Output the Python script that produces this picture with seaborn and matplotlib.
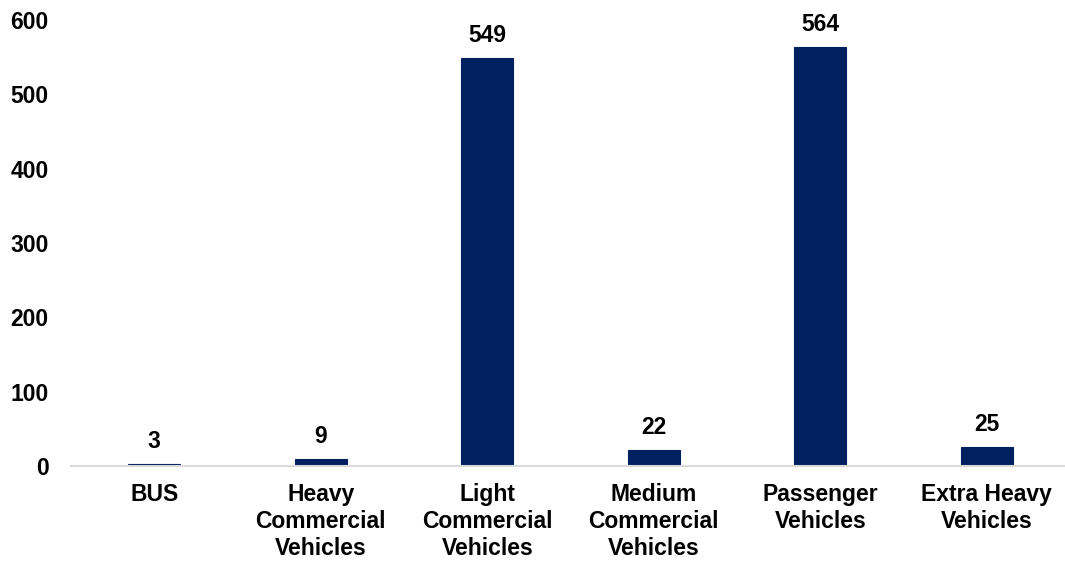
import matplotlib
matplotlib.use("Agg")
import matplotlib.pyplot as plt
import seaborn as sns
import pandas as pd

categories = [
    "BUS",
    "Heavy\nCommercial\nVehicles",
    "Light\nCommercial\nVehicles",
    "Medium\nCommercial\nVehicles",
    "Passenger\nVehicles",
    "Extra Heavy\nVehicles",
]
values = [3, 9, 549, 22, 564, 25]
y_ticks = [0, 100, 200, 300, 400, 500, 600]

sns.set_theme(style="white")
plt.rcParams["font.family"] = ["Liberation Sans", "DejaVu Sans"]
plt.rcParams["font.weight"] = "bold"

df = pd.DataFrame({"category": categories, "value": values})

fig = plt.figure(figsize=(10.65, 5.62), dpi=100)
ax = fig.add_axes([71 / 1065, 1 - 466 / 562, (1070 - 71) / 1065, 446 / 562])

sns.barplot(data=df, x="category", y="value", color="#002060", saturation=1,
            width=0.31, edgecolor="#002060", linewidth=0.8, ax=ax)

for i, v in enumerate(values):
    ax.annotate(f"{v}", (i, v), xytext=(0, 8), textcoords="offset points",
                ha="center", va="bottom", fontsize=16.5, fontweight="bold",
                color="black")

ax.set_ylim(0, 600)
ax.set_yticks(y_ticks)
ax.set_xlim(-0.5, len(categories) - 0.5)
ax.set_xlabel("")
ax.set_ylabel("")
for side in ["top", "right", "left"]:
    ax.spines[side].set_visible(False)
ax.spines["bottom"].set_color("#d9d9d9")
ax.spines["bottom"].set_linewidth(1.5)
ax.tick_params(axis="y", length=0, pad=16, labelsize=16.5, labelcolor="black")
ax.tick_params(axis="x", length=0, pad=12.5, labelsize=16.5, labelcolor="black")
for lbl in ax.get_xticklabels() + ax.get_yticklabels():
    lbl.set_fontweight("bold")
for lbl in ax.get_xticklabels():
    lbl.set_linespacing(1.22)

fig.savefig("out.png", dpi=100)
